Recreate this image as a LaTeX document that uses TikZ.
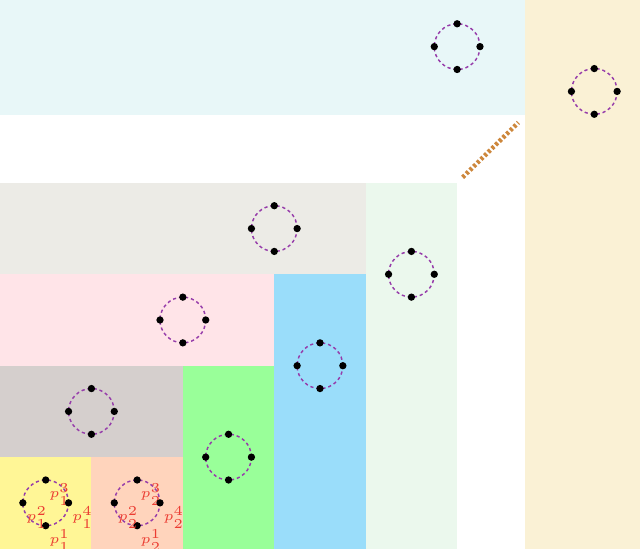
\documentclass[tikz,border=0pt]{standalone}
\begin{document}
\definecolor{cYellow}{RGB}{255,246,150}
\definecolor{cPeach}{RGB}{255,212,188}
\definecolor{cTaupe}{RGB}{213,207,205}
\definecolor{cGreen}{RGB}{153,255,153}
\definecolor{cPink}{RGB}{255,228,232}
\definecolor{cBlue}{RGB}{154,221,250}
\definecolor{cLGray}{RGB}{236,235,230}
\definecolor{cLGreen}{RGB}{235,248,237}
\definecolor{cCyan}{RGB}{232,247,248}
\definecolor{cBeige}{RGB}{250,241,213}
\definecolor{cRing}{RGB}{150,60,170}
\definecolor{cLab}{RGB}{235,60,50}
\definecolor{cDash}{RGB}{205,135,60}
\tikzset{
  ring/.style={draw=cRing, dash pattern=on 1pt off 0.9pt, line width=0.45pt},
  dot/.style={circle, fill=black, inner sep=0pt, minimum size=0.8mm},
  lab/.style={text=cLab, font=\tiny, inner sep=0pt, label distance=0pt, scale=0.85, transform shape},
  gapline/.style={draw=cDash, line width=1.4pt, dash pattern=on 0.9pt off 0.7pt}
}
\newcommand\myring[3]{%
  \draw[ring] (#2,#3) circle (0.25);
  \node[dot] (#1t) at (#2,#3+0.25) {};
  \node[dot] (#1b) at (#2,#3-0.25) {};
  \node[dot] (#1l) at (#2-0.25,#3) {};
  \node[dot] (#1r) at (#2+0.25,#3) {};
}
\newcommand\mylabring[4]{%
  \draw[ring] (#2,#3) circle (0.25);
  \node[dot, label={[lab]below right:$p_{#4}^{3}$}] (#1t) at (#2,#3+0.25) {};
  \node[dot, label={[lab]below right:$p_{#4}^{1}$}] (#1b) at (#2,#3-0.25) {};
  \node[dot, label={[lab]below right:$p_{#4}^{2}$}] (#1l) at (#2-0.25,#3) {};
  \node[dot, label={[lab]below right:$p_{#4}^{4}$}] (#1r) at (#2+0.25,#3) {};
}
\begin{tikzpicture}[x=1cm,y=1cm]
\useasboundingbox (0,0) rectangle (7,6);
% regions
\fill[cBeige] (5.74,0) rectangle (7,6);
\fill[cCyan] (0,4.74) rectangle (5.74,6);
\fill[cLGray] (0,3) rectangle (4,4);
\fill[cLGreen] (4,0) rectangle (5,4);
\fill[cPink] (0,2) rectangle (3,3);
\fill[cBlue] (3,0) rectangle (4,3);
\fill[cTaupe] (0,1) rectangle (2,2);
\fill[cGreen] (2,0) rectangle (3,2);
\fill[cYellow] (0,0) rectangle (1,1);
\fill[cPeach] (1,0) rectangle (2,1);
% rings
\mylabring{ya}{0.5}{0.5}{1}
\mylabring{pe}{1.5}{0.5}{2}
\myring{ta}{1}{1.5}
\myring{gr}{2.5}{1}
\myring{pi}{2}{2.5}
\myring{bl}{3.5}{2}
\myring{lg}{3}{3.5}
\myring{ln}{4.5}{3}
\myring{cy}{5}{5.49}
\myring{be}{6.5}{5}
% continuation
\coordinate (g1) at (5.06,4.06);
\coordinate (g2) at (5.67,4.66);
\draw[gapline] (g1) -- (g2);
\end{tikzpicture}
\end{document}
